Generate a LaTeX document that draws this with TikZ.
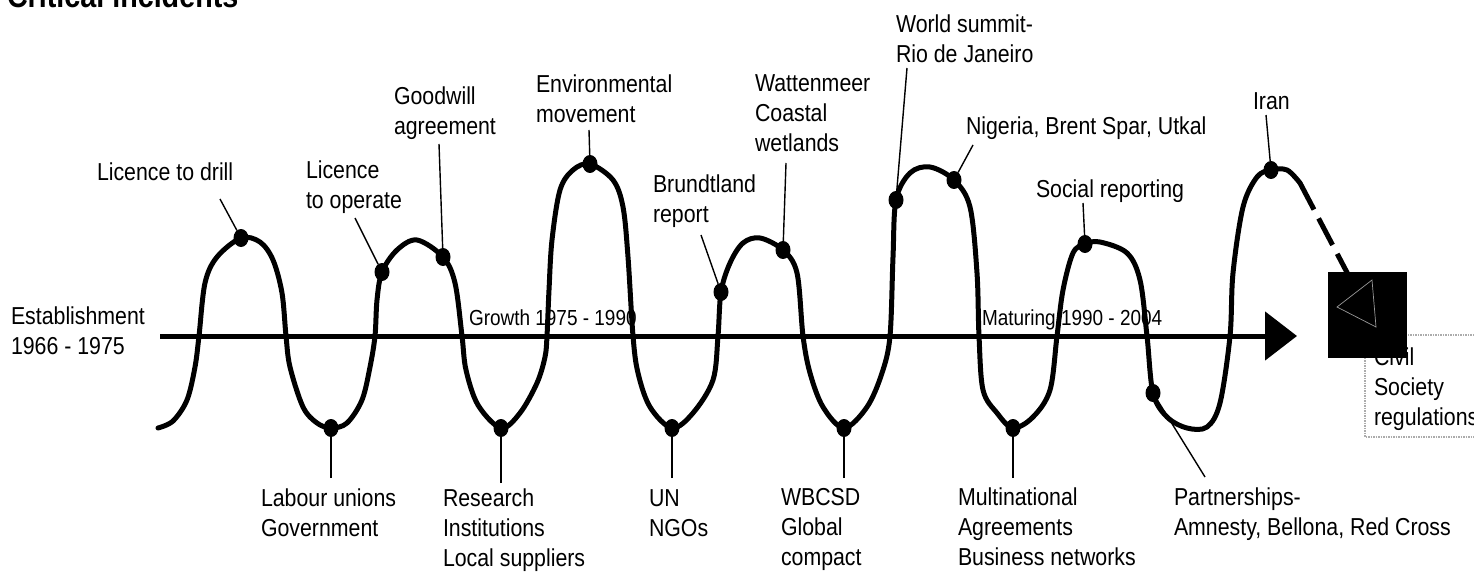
\documentclass[tikz,border=0pt]{standalone}
\usepackage{fontspec}
\setmainfont{Liberation Sans}[FakeStretch=0.87]
\usetikzlibrary{shapes.geometric,arrows.meta}

\begin{document}
\begin{tikzpicture}[x=1pt,y=-1pt,
    every node/.style={inner sep=0pt,outer sep=0pt},
    lab/.style={anchor=north west,align=left,font=\fontsize{24.5}{30}\selectfont},
    period/.style={anchor=north west,font=\fontsize{21.8}{26}\selectfont},
    dot/.style={ellipse,fill=black,minimum width=15pt,minimum height=18pt},
    wave/.style={line width=5pt,line join=round,line cap=round},
    leader/.style={line width=1.4pt}]
    \useasboundingbox (0,0) rectangle (1474,572);
    \node[anchor=base west,font=\bfseries\fontsize{33}{36}\selectfont] (title) at (7,8) {Critical incidents};
    \coordinate (axis-start) at (160,336);
    \coordinate (axis-end) at (1297,336);
    \draw[line width=5pt,-{Triangle[length=32pt,width=48pt]}] (axis-start) -- (axis-end); %Axis
    \node[lab] (est-lab) at (11,307) {Establishment\\1966 - 1975};
    \node[period] (growth-lab) at (469,310) {Growth 1975 - 1990};
    \node[period] (maturing-lab) at (982,310) {Maturing 1990 - 2004};
    % the wave
    \draw[wave] plot[smooth,tension=0.55] coordinates {
      (158,428) (173,421) (187,400) (195,367) (199,336) (205,283) (217,257) (241,238)
      (260,242) (273,260) (282,293) (286,336) (290,367) (303,407) (317,423) (331,428)
      (347,423) (362,400) (370,367) (375,336) (377,300) (382,272) (397,250) (417,240)
      (443,257) (455,283) (462,336) (466,370) (478,405) (501,428)
      (520,413) (537,383) (545,357) (547,336) (549,290) (552,240) (560,190) (573,170) (590,164)
      (613,180) (623,207) (628,257) (633,336) (638,373) (650,407) (672,428)
      (693,413) (713,380) (718,336) (721,292) (730,263) (743,243) (760,238)
      (783,250) (797,273) (803,336) (810,373) (823,407) (844,428)
      (867,407) (882,373) (890,336) (893,257) (896,200) (910,173) (930,167)
      (954,180) (970,207) (977,273) (979,336) (983,390) (997,413) (1013,428)
      (1033,417) (1050,390) (1057,336) (1063,290) (1073,253) (1085,244) (1100,242)
      (1127,253) (1140,280) (1147,336) (1153,393) (1167,417) (1187,428) (1207,427)
      (1220,403) (1230,336) (1233,273) (1243,207) (1257,177) (1271,170) (1287,170) (1300,183)};
    \coordinate (wave-end) at (1300,183);
    \coordinate (dash-end) at (1352,282);
    \draw[line width=5pt,dash pattern=on 30pt off 10pt] (wave-end) -- (dash-end);
    \foreach \x/\y/\n in {241/238/drill, 382/272/operate, 443/257/goodwill, 590/164/envmove,
      721/292/brundtland, 783/250/watten, 896/200/rio, 954/180/nigeria, 1085/244/social,
      1271/170/iran, 331/428/labour, 501/428/research, 672/428/un, 844/428/wbcsd,
      1013/428/multi, 1153/393/partner}
      \node[dot] (\n) at (\x,\y) {};
    % leader lines
    \foreach \n/\x/\y in {drill/220/199, operate/355/218, goodwill/439/144, envmove/589/130,
      brundtland/701/235, watten/786/163, rio/907/68, nigeria/973/145, social/1083/203,
      iran/1266/115, labour/331/478, research/501/483, un/672/478, wbcsd/844/478,
      multi/1013/478, partner/1205/477} {
      \coordinate (\n-end) at (\x,\y);
      \draw[leader] (\n-end) -- (\n);
    }
    \node[lab] (drill-lab) at (97,163) {Licence to drill};
    \node[lab] (operate-lab) at (306,161) {Licence\\to operate};
    \node[lab] (goodwill-lab) at (394,87) {Goodwill\\agreement};
    \node[lab] (envmove-lab) at (536,75) {Environmental\\movement};
    \node[lab] (brundtland-lab) at (653,175) {Brundtland\\report};
    \node[lab] (watten-lab) at (755,75) {Wattenmeer\\Coastal\\wetlands};
    \node[lab] (rio-lab) at (896,15) {World summit-\\Rio de Janeiro};
    \node[lab] (nigeria-lab) at (966,117) {Nigeria, Brent Spar, Utkal};
    \node[lab] (social-lab) at (1036,180) {Social reporting};
    \node[lab] (iran-lab) at (1253,93) {Iran};
    \node[lab] (labour-lab) at (261,489) {Labour unions\\Government};
    \node[lab] (research-lab) at (443,489) {Research\\Institutions\\Local suppliers};
    \node[lab] (un-lab) at (649,490) {UN\\NGOs};
    \node[lab] (wbcsd-lab) at (781,488) {WBCSD\\Global\\compact};
    \node[lab] (multi-lab) at (958,488) {Multinational\\Agreements\\Business networks};
    \node[lab] (partner-lab) at (1174,488) {Partnerships-\\Amnesty, Bellona, Red Cross};
    % civil society box
    \draw[gray!65,line width=1.5pt,dash pattern=on 1.5pt off 1pt] (1365,335) rectangle (1490,437);
    \node[lab] (civil-lab) at (1374,348) {Civil\\Society\\regulations};
    \fill (1328,272) rectangle (1407,358);
    \draw[gray!80,line width=0.7pt] (1337,307) -- (1372,280) -- (1376,327) -- cycle;
\end{tikzpicture}
\end{document}
